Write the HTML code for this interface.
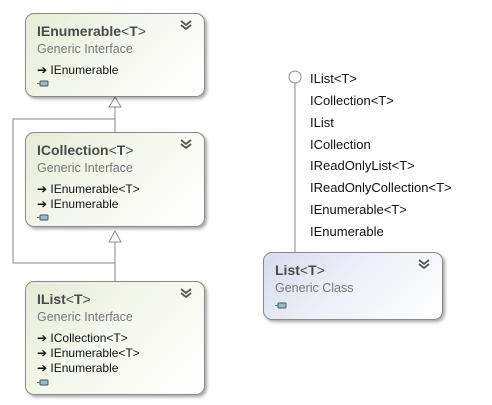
<!DOCTYPE html>
<html><head><style>
body{margin:0;width:492px;height:405px;background:#fff;position:relative;font-family:"Liberation Sans",sans-serif;overflow:hidden}
.b{position:absolute;border:1px solid #8a8a8a;border-radius:9px;box-shadow:2px 2px 3px rgba(0,0,0,.35);background:linear-gradient(135deg,#e6ecd6 0%,#f4f7ec 45%,#fff 100%)}
.c{background:linear-gradient(135deg,#d6dcee 0%,#edf0f8 45%,#fff 100%)}
.t{position:absolute;left:11px;top:9px;font-size:14px;font-weight:bold;color:#4a4a4a}
.t span{font-weight:normal}
.s{position:absolute;left:11px;top:28px;font-size:12.5px;color:#777}
.i{position:absolute;left:11px;font-size:12px;color:#111}
.ic{position:absolute;left:11px;width:12px;height:7px}
.ch{position:absolute;right:12px;top:6px;width:12px;height:11px}
.l{position:absolute;left:310px;font-size:13px;color:#111}
</style></head><body>
<svg width="492" height="405" style="position:absolute;left:0;top:0">
<g stroke="#8a8a8a" fill="none" stroke-width="1">
<line x1="115" y1="107" x2="115" y2="132"/>
<polyline points="115,119 13,119 13,263 115,263"/>
<line x1="115" y1="242" x2="115" y2="281"/>
<polygon points="115,97 109,107 121,107" fill="#fff"/>
<polygon points="115,231 109,242 121,242" fill="#fff"/>
<line x1="295" y1="83" x2="295" y2="252"/>
<circle cx="295" cy="77" r="6" fill="#fff"/>
</g>
</svg>
<div class="b" style="left:25px;top:13px;width:178px;height:82px">
<div class="t">IEnumerable<span>&lt;</span>T<span>&gt;</span></div><svg class="ch"><path d="M1,1 L6,5 L11,1 M1,5 L6,9 L11,5" stroke="#555" stroke-width="1.8" fill="none"/></svg>
<div class="s">Generic Interface</div>
<div class="i" style="top:49px">➔ IEnumerable</div>
<svg class="ic" style="top:66px"><rect x="3" y="1" width="8" height="5" rx="1" fill="#9bc" stroke="#456"/><line x1="0" y1="3.5" x2="3" y2="3.5" stroke="#678"/></svg>
</div>
<div class="b" style="left:25px;top:132px;width:178px;height:93px">
<div class="t">ICollection<span>&lt;</span>T<span>&gt;</span></div><svg class="ch"><path d="M1,1 L6,5 L11,1 M1,5 L6,9 L11,5" stroke="#555" stroke-width="1.8" fill="none"/></svg>
<div class="s">Generic Interface</div>
<div class="i" style="top:49px">➔ IEnumerable&lt;T&gt;</div>
<div class="i" style="top:64px">➔ IEnumerable</div>
<svg class="ic" style="top:81px"><rect x="3" y="1" width="8" height="5" rx="1" fill="#9bc" stroke="#456"/><line x1="0" y1="3.5" x2="3" y2="3.5" stroke="#678"/></svg>
</div>
<div class="b" style="left:25px;top:281px;width:178px;height:112px">
<div class="t">IList<span>&lt;</span>T<span>&gt;</span></div><svg class="ch"><path d="M1,1 L6,5 L11,1 M1,5 L6,9 L11,5" stroke="#555" stroke-width="1.8" fill="none"/></svg>
<div class="s">Generic Interface</div>
<div class="i" style="top:49px">➔ ICollection&lt;T&gt;</div>
<div class="i" style="top:64px">➔ IEnumerable&lt;T&gt;</div>
<div class="i" style="top:79px">➔ IEnumerable</div>
<svg class="ic" style="top:97px"><rect x="3" y="1" width="8" height="5" rx="1" fill="#9bc" stroke="#456"/><line x1="0" y1="3.5" x2="3" y2="3.5" stroke="#678"/></svg>
</div>
<div class="b c" style="left:263px;top:252px;width:178px;height:66px">
<div class="t">List<span>&lt;</span>T<span>&gt;</span></div><svg class="ch"><path d="M1,1 L6,5 L11,1 M1,5 L6,9 L11,5" stroke="#555" stroke-width="1.8" fill="none"/></svg>
<div class="s">Generic Class</div>
<svg class="ic" style="top:49px"><rect x="3" y="1" width="8" height="5" rx="1" fill="#9bc" stroke="#456"/><line x1="0" y1="3.5" x2="3" y2="3.5" stroke="#678"/></svg>
</div>
<div class="l" style="top:71px">IList&lt;T&gt;</div>
<div class="l" style="top:93px">ICollection&lt;T&gt;</div>
<div class="l" style="top:115px">IList</div>
<div class="l" style="top:137px">ICollection</div>
<div class="l" style="top:158px">IReadOnlyList&lt;T&gt;</div>
<div class="l" style="top:180px">IReadOnlyCollection&lt;T&gt;</div>
<div class="l" style="top:202px">IEnumerable&lt;T&gt;</div>
<div class="l" style="top:224px">IEnumerable</div>
</body></html>
